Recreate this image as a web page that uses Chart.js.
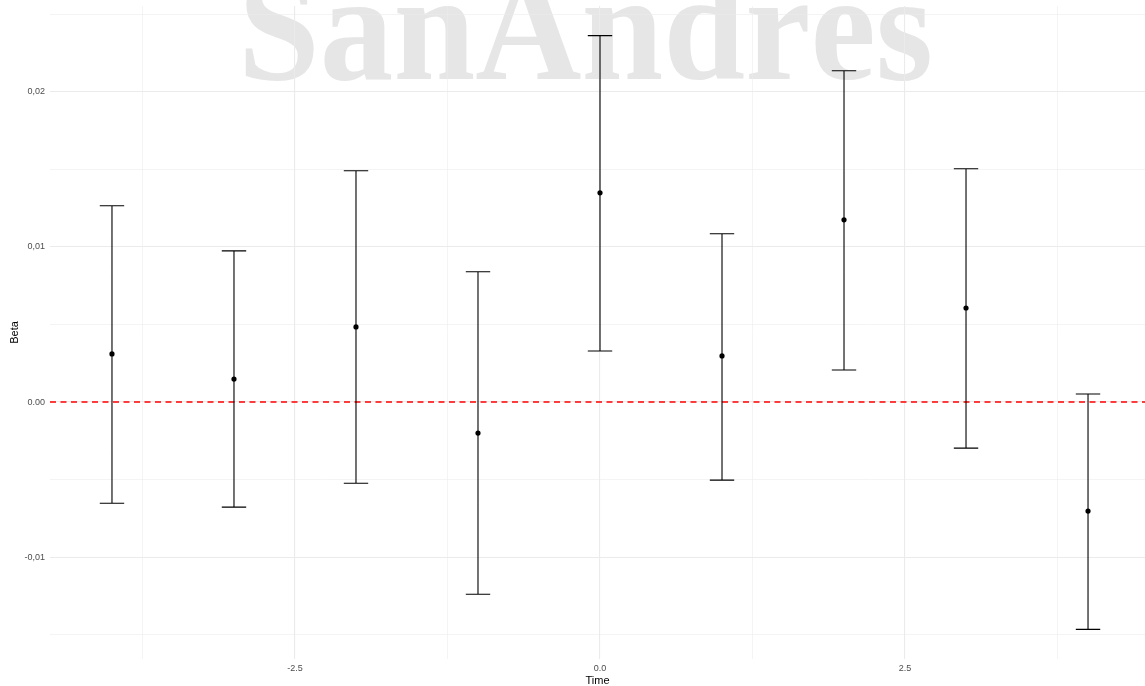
<!DOCTYPE html>
<html>
<head>
<meta charset="utf-8">
<script src="https://cdn.jsdelivr.net/npm/chart.js@4/dist/chart.umd.min.js"></script>
<style>
  html, body { margin: 0; padding: 0; background: #ffffff; overflow: hidden; }
  canvas { display: block; }
</style>
</head>
<body>
<canvas id="c" width="1145" height="686"></canvas>
<script>
// Event-study estimates by relative time
const times    = [-4, -3, -2, -1, 0, 1, 2, 3, 4];
const beta     = [0.00310, 0.00148, 0.00484, -0.00200, 0.01348, 0.00297, 0.01174, 0.00606, -0.00703];
const ciLower  = [-0.00652, -0.00677, -0.00523, -0.01239, 0.00329, -0.00503, 0.00206, -0.00297, -0.01465];
const ciUpper  = [0.01265, 0.00974, 0.01490, 0.00839, 0.02361, 0.01084, 0.02135, 0.01503, 0.00052];

// Axis ticks (major ticks carry labels, minor ticks only grid lines)
const xMajorTicks  = [-2.5, 0, 2.5];
const xMajorLabels = ['-2.5', '0.0', '2.5'];
const xMinorTicks  = [-3.75, -1.25, 1.25, 3.75];
const yMajorTicks  = [-0.01, 0, 0.01, 0.02];
const yMajorLabels = ['-0,01', '0.00', '0,01', '0,02'];
const yMinorTicks  = [-0.015, -0.005, 0.005, 0.015, 0.025];

const refLine = [0];
const watermarkText = 'SanAndrés';

const X_MIN = -4.508, X_MAX = 4.467;
const Y_MIN = -0.01656, Y_MAX = 0.02552;
const WHISKER = 0.1;

// Error bars as one broken line: stem, upper cap, lower cap per estimate
const errorSegments = [];
times.forEach((t, i) => {
  errorSegments.push({x: t, y: ciLower[i]}, {x: t, y: ciUpper[i]}, {x: t, y: null});
  errorSegments.push({x: t - WHISKER, y: ciUpper[i]}, {x: t + WHISKER, y: ciUpper[i]}, {x: t, y: null});
  errorSegments.push({x: t - WHISKER, y: ciLower[i]}, {x: t + WHISKER, y: ciLower[i]}, {x: t, y: null});
});

const refSegments = [];
refLine.forEach(v => { refSegments.push({x: X_MIN, y: v}, {x: X_MAX, y: v}, {x: 0, y: null}); });

const pointData = times.map((t, i) => ({x: t, y: beta[i]}));

const near = (a, b) => Math.abs(a - b) < 1e-9;
const isIn = (arr, v) => arr.some(a => near(a, v));

const watermark = {
  id: 'watermark',
  beforeDraw(chart) {
    const ctx = chart.ctx;
    ctx.save();
    ctx.font = 'bold 154px "Liberation Serif", "DejaVu Serif", serif';
    ctx.fillStyle = '#e6e6e6';
    ctx.textBaseline = 'alphabetic';
    const w = ctx.measureText(watermarkText).width;
    const left = 238, right = 933;
    ctx.translate(left, 79);
    ctx.scale((right - left) / w, 1);
    ctx.fillText(watermarkText, 0, 0);
    ctx.restore();
  }
};

// Keep the plot panel flush with the canvas edges
const noScalePadding = scale => {
  scale.paddingTop = 0; scale.paddingBottom = 0;
  scale.paddingLeft = 0; scale.paddingRight = 0;
};

const tickFont = { family: '"Liberation Sans", Arial, sans-serif', size: 9 };
const gridColor = '#ebebeb';

new Chart(document.getElementById('c'), {
  data: {
    datasets: [
      {
        type: 'line',
        data: refSegments,
        borderColor: '#ff0000',
        borderWidth: 1.5,
        borderDash: [6, 4.5],
        pointRadius: 0,
        spanGaps: false,
        order: 3
      },
      {
        type: 'line',
        data: errorSegments,
        borderColor: '#000000',
        borderWidth: 1.1,
        pointRadius: 0,
        spanGaps: false,
        order: 2
      },
      {
        type: 'scatter',
        data: pointData,
        backgroundColor: '#000000',
        borderColor: '#000000',
        pointRadius: 2.6,
        borderWidth: 0,
        order: 1
      }
    ]
  },
  options: {
    responsive: false,
    animation: false,
    layout: { autoPadding: false, padding: { top: 6, right: 0, left: 0, bottom: 0 } },
    plugins: { legend: { display: false }, tooltip: { enabled: false } },
    scales: {
      x: {
        type: 'linear',
        min: X_MIN, max: X_MAX,
        afterBuildTicks(scale) {
          scale.ticks = xMinorTicks.concat(xMajorTicks).sort((a, b) => a - b).map(v => ({value: v}));
        },
        afterFit(scale) { scale.height = 27; noScalePadding(scale); },
        border: { display: false },
        grid: {
          drawTicks: false,
          color: gridColor,
          lineWidth: ctx => isIn(xMajorTicks, ctx.tick.value) ? 1.1 : 0.55
        },
        ticks: {
          padding: 4,
          maxRotation: 0,
          autoSkip: false,
          color: '#4d4d4d',
          font: tickFont,
          callback: v => {
            const k = xMajorTicks.findIndex(a => near(a, v));
            return k >= 0 ? xMajorLabels[k] : '';
          }
        },
        title: {
          display: true,
          text: 'Time',
          color: '#000000',
          font: { family: '"Liberation Sans", Arial, sans-serif', size: 11, lineHeight: 1.0 },
          padding: { top: 0, bottom: 0 }
        }
      },
      y: {
        type: 'linear',
        min: Y_MIN, max: Y_MAX,
        afterBuildTicks(scale) {
          scale.ticks = yMinorTicks.concat(yMajorTicks).sort((a, b) => a - b).map(v => ({value: v}));
        },
        afterFit(scale) { scale.width = 50; noScalePadding(scale); },
        border: { display: false },
        grid: {
          drawTicks: false,
          color: gridColor,
          lineWidth: ctx => isIn(yMajorTicks, ctx.tick.value) ? 1.1 : 0.55
        },
        ticks: {
          padding: 5,
          autoSkip: false,
          color: '#4d4d4d',
          font: tickFont,
          callback: v => {
            const k = yMajorTicks.findIndex(a => near(a, v));
            return k >= 0 ? yMajorLabels[k] : '';
          }
        },
        title: {
          display: true,
          text: 'Beta',
          color: '#000000',
          font: { family: '"Liberation Sans", Arial, sans-serif', size: 11 },
          padding: { top: 8.5, bottom: 0 }
        }
      }
    }
  },
  plugins: [watermark]
});
</script>
</body>
</html>
